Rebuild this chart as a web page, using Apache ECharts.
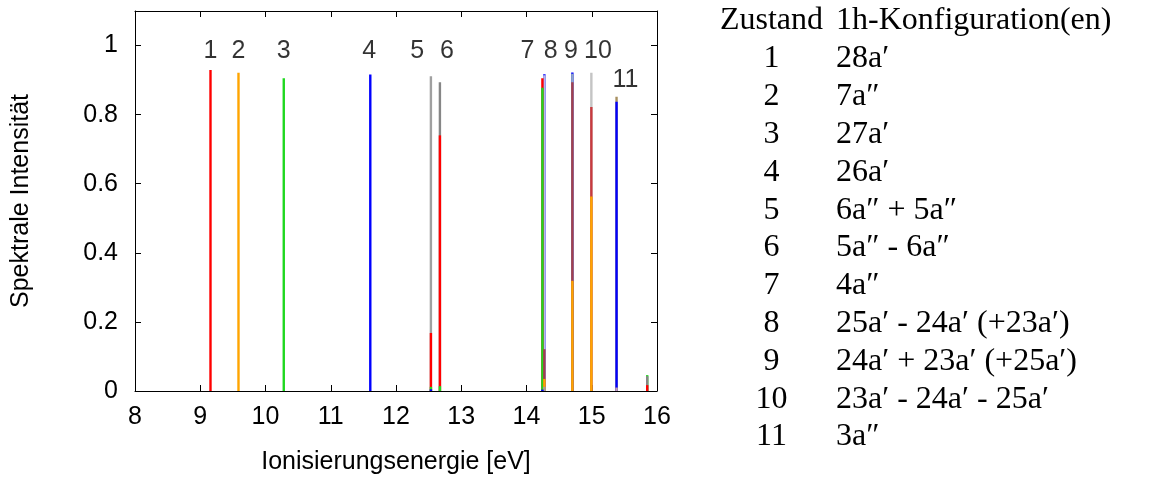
<!DOCTYPE html>
<html>
<head>
<meta charset="utf-8">
<script src="https://cdn.jsdelivr.net/npm/echarts@6/dist/echarts.min.js"></script>
<style>
  html, body { margin: 0; padding: 0; background: #fff; }
  #chart { width: 1159px; height: 480px; }
</style>
</head>
<body>
<div id="chart"></div>
<script>
// Ionisation energies of the computed states (eV)
const energies = [9.157, 9.586, 10.28, 11.606, 12.535, 12.673, 14.244, 14.274, 14.703, 14.994, 15.38, 15.85];

// Spectral intensity of each contribution, one entry per line above (0 = none)
const redPart      = [0.929, 0, 0, 0, 0.168, 0.740, 0.905, 0, 0, 0, 0, 0.017];
const orangePart   = [0, 0.921, 0, 0, 0, 0, 0, 0.035, 0.319, 0.563, 0, 0];
const greenPart    = [0, 0, 0.905, 0, 0.012, 0.014, 0.878, 0, 0, 0, 0, 0.046];
const bluePart     = [0, 0, 0, 0.916, 0.005, 0, 0.004, 0.917, 0.922, 0, 0.837, 0];
const greyPart     = [0, 0, 0, 0, 0.911, 0, 0, 0.012, 0, 0, 0, 0];
const darkGreyPart = [0, 0, 0, 0, 0, 0.894, 0, 0, 0, 0, 0, 0.043];
const silverPart   = [0, 0, 0, 0, 0, 0, 0, 0, 0, 0.921, 0, 0];
const lavenderPart = [0, 0, 0, 0, 0, 0, 0, 0.914, 0, 0, 0, 0];
const steelPart    = [0, 0, 0, 0, 0, 0, 0, 0, 0.918, 0, 0, 0];
const maroonPart   = [0, 0, 0, 0, 0, 0, 0, 0.121, 0.894, 0, 0, 0];
const crimsonPart  = [0, 0, 0, 0, 0, 0, 0, 0, 0, 0.822, 0, 0];
const tanPart      = [0, 0, 0, 0, 0, 0, 0, 0, 0, 0, 0.852, 0];
const rosePart     = [0, 0, 0, 0, 0, 0, 0, 0, 0, 0, 0.010, 0];

// State numbers written above the lines
const stateLabels = ['1', '2', '3', '4', '5', '6', '7', '8', '9', '10', '11'];
const labelEnergy = [9.157, 9.586, 10.28, 11.59, 12.326, 12.78, 14.014, 14.372, 14.683, 15.096, 15.517];
const labelIntensity = [0.985, 0.985, 0.985, 0.985, 0.985, 0.985, 0.985, 0.985, 0.985, 0.985, 0.9];

// Axis ticks
const xTicks = [8, 9, 10, 11, 12, 13, 14, 15, 16];
const yTicks = [0, 0.2, 0.4, 0.6, 0.8, 1];

// Table of states and their one-hole configurations
const tableHeader = ['Zustand', '1h-Konfiguration(en)'];
const tableStates = ['1', '2', '3', '4', '5', '6', '7', '8', '9', '10', '11'];
const tableConfigs = [
  '28a\u2032', '7a\u2033', '27a\u2032', '26a\u2032', '6a\u2033 + 5a\u2033', '5a\u2033 - 6a\u2033',
  '4a\u2033', '25a\u2032 - 24a\u2032 (+23a\u2032)', '24a\u2032 + 23a\u2032 (+25a\u2032)',
  '23a\u2032 - 24a\u2032 - 25a\u2032', '3a\u2033'
];

const parts = [redPart, orangePart, greenPart, bluePart, greyPart, darkGreyPart, silverPart,
  lavenderPart, steelPart, maroonPart, crimsonPart, tanPart, rosePart];
const partColors = ['#ff0000', '#ffa500', '#1fd81f', '#0000ff', '#a0a0a0', '#868686', '#c4c4c4',
  '#b8b8ea', '#8fa6c6', '#a2404e', '#c83a3e', '#a89060', '#c8a0b0'];

// Every contribution is an impulse from zero; taller ones go underneath shorter ones.
const impulses = [];
parts.forEach((arr, k) => arr.forEach((v, i) => { if (v > 0) impulses.push([energies[i], v, k]); }));
impulses.sort((a, b) => b[1] - a[1]);

const lineWidth = 2.4;
const plotFont = 'Liberation Sans, Arial, sans-serif';
const tableFont = 'Liberation Serif, Times New Roman, serif';
const plotSize = 25;
const tableSize = 32;

const fmtY = v => {
  const r = Math.round(v * 10) / 10;
  return yTicks.some(t => Math.abs(t - r) < 1e-9) ? String(r) : '';
};

const tickStyle = { show: true, inside: true, length: 6, lineStyle: { color: '#000', width: 1 } };
const lineStyle = { show: true, onZero: false, lineStyle: { color: '#000', width: 1 } };

// Right-hand table, drawn as plain text
const graphics = [];
const colNum = 771.5, colCfg = 836, headerY = 21, rowY0 = 59, rowStep = 37.8;
const cell = (x, y, text, align) => ({
  type: 'text', x: x, y: y,
  style: { text: text, font: tableSize + 'px ' + tableFont, fill: '#000', align: align, verticalAlign: 'middle' }
});
graphics.push(cell(colNum, headerY, tableHeader[0], 'center'));
graphics.push(cell(colCfg, headerY, tableHeader[1], 'left'));
tableStates.forEach((s, i) => {
  const y = rowY0 + i * rowStep;
  graphics.push(cell(colNum, y, s, 'center'));
  graphics.push(cell(colCfg, y, tableConfigs[i], 'left'));
});

const chart = echarts.init(document.getElementById('chart'), null, { renderer: 'canvas' });
chart.setOption({
  animation: false,
  backgroundColor: '#fff',
  grid: { left: 135, right: 502, top: 11, bottom: 88, show: false },
  xAxis: [{
    type: 'value', min: xTicks[0], max: xTicks[xTicks.length - 1], interval: 1, position: 'bottom',
    name: 'Ionisierungsenergie [eV]', nameLocation: 'middle', nameGap: 59,
    nameTextStyle: { fontFamily: plotFont, fontSize: plotSize, color: '#000' },
    axisLine: lineStyle, axisTick: tickStyle, splitLine: { show: false },
    axisLabel: { margin: 14, fontFamily: plotFont, fontSize: plotSize, color: '#000' }
  }, {
    type: 'value', min: xTicks[0], max: xTicks[xTicks.length - 1], interval: 1, position: 'top',
    axisLine: lineStyle, axisTick: tickStyle, splitLine: { show: false }, axisLabel: { show: false }
  }],
  yAxis: [{
    type: 'value', min: 0, max: 1.1, interval: 0.2, position: 'left',
    name: 'Spektrale Intensit\u00e4t', nameLocation: 'middle', nameGap: 101,
    nameTextStyle: { fontFamily: plotFont, fontSize: plotSize, color: '#000' },
    axisLine: lineStyle, axisTick: tickStyle, splitLine: { show: false },
    axisLabel: { margin: 17, fontFamily: plotFont, fontSize: plotSize, color: '#000', formatter: fmtY, showMaxLabel: false }
  }, {
    type: 'value', min: 0, max: 1.1, interval: 0.2, position: 'right',
    axisLine: lineStyle, axisTick: tickStyle, splitLine: { show: false }, axisLabel: { show: false }
  }],
  series: [{
    type: 'custom',
    xAxisIndex: 0, yAxisIndex: 0,
    data: impulses,
    renderItem: (params, api) => {
      const base = api.coord([api.value(0), 0]);
      const top = api.coord([api.value(0), api.value(1)]);
      return {
        type: 'rect',
        shape: { x: base[0] - lineWidth / 2, y: top[1], width: lineWidth, height: base[1] - top[1] },
        style: { fill: partColors[api.value(2)] }
      };
    }
  }, {
    type: 'scatter',
    xAxisIndex: 0, yAxisIndex: 0,
    symbolSize: 0,
    data: stateLabels.map((t, i) => [labelEnergy[i], labelIntensity[i], t]),
    label: {
      show: true, position: 'inside', formatter: p => p.value[2],
      fontFamily: plotFont, fontSize: plotSize, color: '#000'
    },
    silent: true
  }],
  graphic: graphics
});
</script>
</body>
</html>
